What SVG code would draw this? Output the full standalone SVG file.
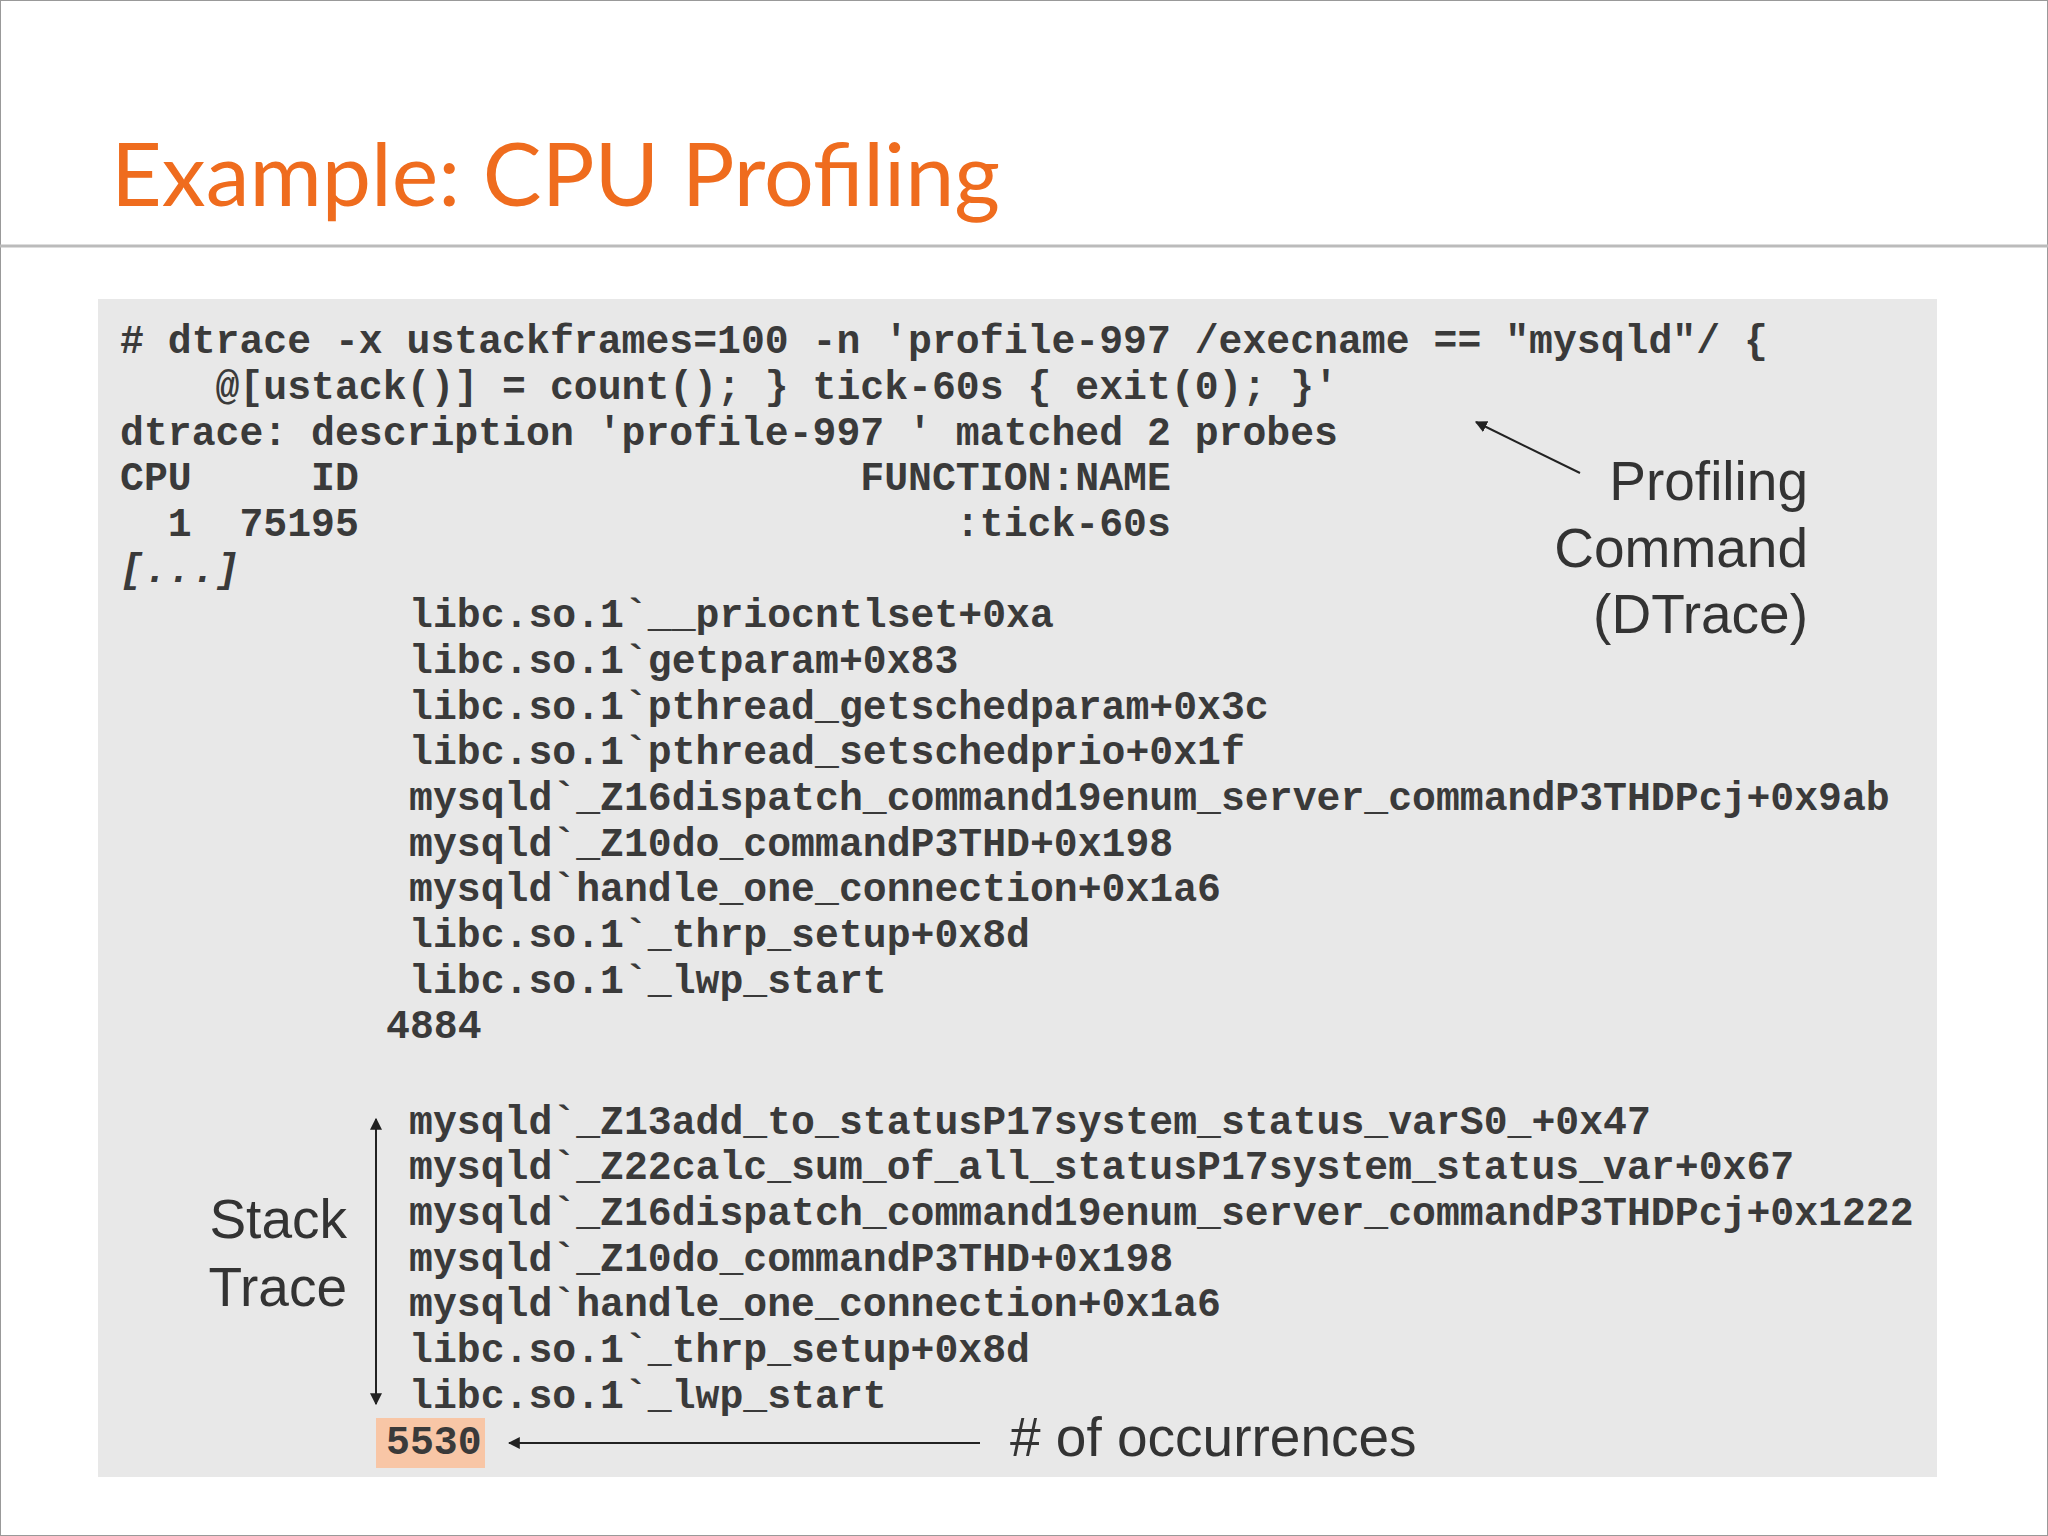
<svg xmlns="http://www.w3.org/2000/svg" width="2048" height="1536" viewBox="0 0 2048 1536">
<defs>
<style>
.c{font-family:"Liberation Mono","Courier New",monospace;font-weight:bold;font-size:39.8px;fill:#3a3a3a;white-space:pre}
.a{font-family:"Liberation Sans",Arial,sans-serif;font-size:55px;fill:#333}
.ln{stroke:#222;stroke-width:2;fill:none}
</style>
<marker id="ah" viewBox="0 0 10 10" refX="9" refY="5" markerWidth="12" markerHeight="12" markerUnits="userSpaceOnUse" orient="auto-start-reverse"><path d="M0,0 L10,5 L0,10 z" fill="#222"/></marker>
</defs>
<rect x="0" y="0" width="2048" height="1536" fill="#fff" stroke="#999" stroke-width="2"/>
<text x="111" y="206" font-family="'Gill Sans','Lato','Open Sans',sans-serif" font-size="88" fill="#ef6c1e">Example: CPU Profiling</text>
<line x1="0" y1="246" x2="2048" y2="246" stroke="#bbb" stroke-width="3"/>
<rect x="98" y="299" width="1839" height="1178" fill="#e8e8e8"/>
<g id="code">
<text class="c" x="120" y="353"># dtrace -x ustackframes=100 -n 'profile-997 /execname == "mysqld"/ {</text>
<text class="c" x="120" y="399">    @[ustack()] = count(); } tick-60s { exit(0); }'</text>
<text class="c" x="120" y="445">dtrace: description 'profile-997 ' matched 2 probes</text>
<text class="c" x="120" y="490">CPU     ID                     FUNCTION:NAME</text>
<text class="c" x="120" y="536">  1  75195                         :tick-60s</text>
<text class="c" x="120" y="582" font-style="italic">[...]</text>
<text class="c" x="409" y="627">libc.so.1`__priocntlset+0xa</text>
<text class="c" x="409" y="673">libc.so.1`getparam+0x83</text>
<text class="c" x="409" y="719">libc.so.1`pthread_getschedparam+0x3c</text>
<text class="c" x="409" y="764">libc.so.1`pthread_setschedprio+0x1f</text>
<text class="c" x="409" y="810">mysqld`_Z16dispatch_command19enum_server_commandP3THDPcj+0x9ab</text>
<text class="c" x="409" y="856">mysqld`_Z10do_commandP3THD+0x198</text>
<text class="c" x="409" y="901">mysqld`handle_one_connection+0x1a6</text>
<text class="c" x="409" y="947">libc.so.1`_thrp_setup+0x8d</text>
<text class="c" x="409" y="993">libc.so.1`_lwp_start</text>
<text class="c" x="386" y="1038">4884</text>
<text class="c" x="409" y="1134">mysqld`_Z13add_to_statusP17system_status_varS0_+0x47</text>
<text class="c" x="409" y="1179">mysqld`_Z22calc_sum_of_all_statusP17system_status_var+0x67</text>
<text class="c" x="409" y="1225">mysqld`_Z16dispatch_command19enum_server_commandP3THDPcj+0x1222</text>
<text class="c" x="409" y="1271">mysqld`_Z10do_commandP3THD+0x198</text>
<text class="c" x="409" y="1316">mysqld`handle_one_connection+0x1a6</text>
<text class="c" x="409" y="1362">libc.so.1`_thrp_setup+0x8d</text>
<text class="c" x="409" y="1408">libc.so.1`_lwp_start</text>
<rect x="376" y="1418" width="109" height="50" fill="#f8c6a6"/>
<text class="c" x="386" y="1454">5530</text>
</g>
<g id="labels">
<text class="a" x="1808" y="500" text-anchor="end">Profiling</text>
<text class="a" x="1808" y="567" text-anchor="end">Command</text>
<text class="a" x="1808" y="633" text-anchor="end">(DTrace)</text>
<text class="a" x="347" y="1238" text-anchor="end">Stack</text>
<text class="a" x="347" y="1306" text-anchor="end">Trace</text>
<text class="a" x="1010" y="1456"># of occurrences</text>
</g>
<g id="connectors">
<line class="ln" x1="1580" y1="473" x2="1476" y2="422" marker-end="url(#ah)"/>
<line class="ln" x1="376" y1="1119" x2="376" y2="1404" marker-start="url(#ah)" marker-end="url(#ah)"/>
<line class="ln" x1="980" y1="1443" x2="509" y2="1443" marker-end="url(#ah)"/>
</g>
</svg>
